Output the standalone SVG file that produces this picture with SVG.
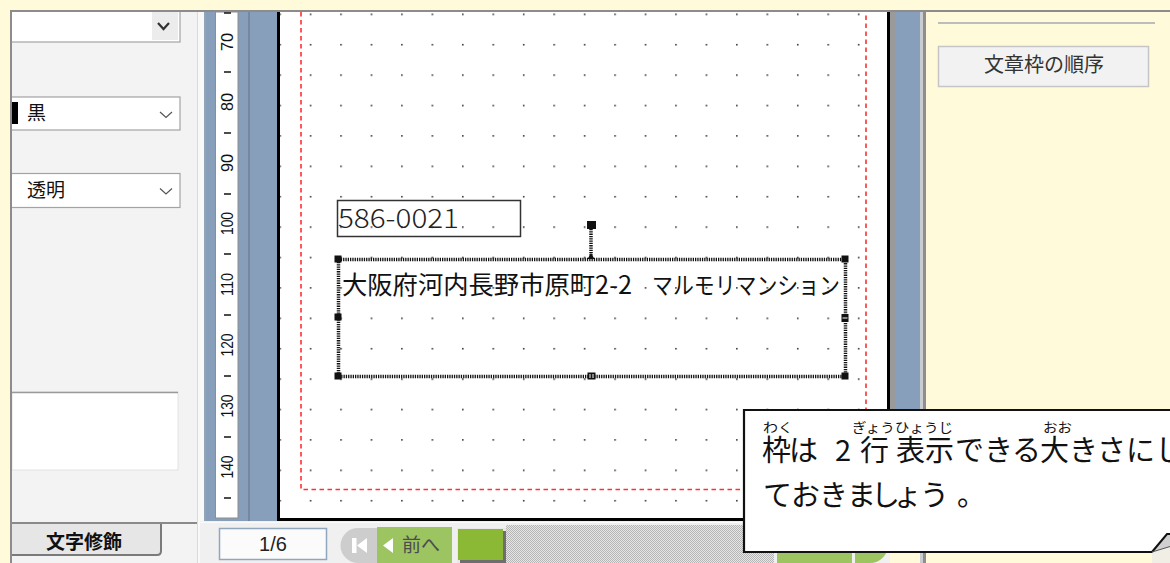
<svg xmlns="http://www.w3.org/2000/svg" width="1170" height="563" viewBox="0 0 1170 563">
<style>
.jp{font-family:'Noto Sans CJK JP','Noto Sans CJK SC',sans-serif}
.rn{font-family:'Liberation Sans',sans-serif;font-size:16px;fill:#111}
.tick{stroke:#111;stroke-width:1.5}
.dd{fill:#fff;stroke:#a3a3a3;stroke-width:1.2}
.chev{fill:none;stroke:#555;stroke-width:1.2}
.hd{fill:#111}
.sel{fill:none;stroke:#111;stroke-width:3.5;stroke-dasharray:1.3 1}
.ct{font-family:'Noto Sans CJK JP','Noto Sans CJK SC',sans-serif;font-size:29px;fill:#111}
.rb{font-family:'Noto Sans CJK JP','Noto Sans CJK SC',sans-serif;font-size:13px;fill:#111}
</style>
<defs>
<pattern id="dots" x="279.3" y="13.5" width="30.45" height="30.4" patternUnits="userSpaceOnUse"><rect width="1.6" height="1.6" fill="#3a3a3a"/></pattern>
<pattern id="hatch" width="2" height="2" patternUnits="userSpaceOnUse"><rect width="2" height="2" fill="#e6e6e6"/><rect width="1" height="1" fill="#b5b5b5"/><rect x="1" y="1" width="1" height="1" fill="#b5b5b5"/></pattern>
</defs>
<rect width="1170" height="563" fill="#fffad9"/>

<g id="left-panel">
<rect x="10" y="11" width="190" height="552" fill="#f3f3f3"/>
<rect x="197" y="11" width="7" height="552" fill="#f9f9f9"/>
<line x1="197.5" y1="11" x2="197.5" y2="563" stroke="#dadada"/>
<rect x="11" y="8" width="169" height="34" class="dd"/>
<rect x="152" y="12" width="26" height="28" fill="#ececec"/>
<path d="M158,23 L163.5,29 L169,23" fill="none" stroke="#333" stroke-width="2.2"/>
<rect x="11" y="97" width="169" height="33" class="dd"/>
<rect x="12" y="102" width="6" height="22" fill="#000"/>
<text x="27" y="120" class="jp" font-size="19" fill="#111">黒</text>
<path d="M160,112 L166,117.5 L172,112" class="chev"/>
<rect x="11" y="173.5" width="169" height="34" class="dd"/>
<text x="27" y="197" class="jp" font-size="19" fill="#111">透明</text>
<path d="M160,188.5 L166,194 L172,188.5" class="chev"/>
<rect x="12" y="392" width="166" height="78" fill="#fff" stroke="#e2e2e2"/>
<line x1="12" y1="392.5" x2="178" y2="392.5" stroke="#9a9a9a" stroke-width="1.5"/>
<line x1="12" y1="523" x2="197" y2="523" stroke="#8a8a8a" stroke-width="2"/>
<path d="M12,524 H161 V551 Q161,555 157,555 H12 Z" fill="#e6e6e6"/>
<path d="M161,524 V551 Q161,555 157,555 H12" fill="none" stroke="#7a7a7a" stroke-width="2"/>
<text x="84" y="549" class="jp" font-size="19" font-weight="bold" fill="#111" text-anchor="middle">文字修飾</text>
<rect x="10" y="11" width="2" height="552" fill="#8c8c8c"/>
</g>

<g id="top-border">
<rect x="0" y="0" width="1170" height="10" fill="#fffad9"/>
<rect x="10" y="10" width="1160" height="2" fill="#8c8c8c"/>
</g>

<g id="ruler">
<rect x="204" y="12" width="73" height="509" fill="#879fba"/>
<line x1="205" y1="12" x2="205" y2="521" stroke="#9aa8b6"/>
<rect x="215.5" y="12" width="22.5" height="506" fill="#fff" stroke="#8e8e8e"/>
<line x1="249" y1="12" x2="249" y2="521" stroke="#6f8196" stroke-width="1.5"/>
<g class="tick">
<line x1="224" y1="13" x2="231" y2="13"/>
<line x1="224" y1="72" x2="231" y2="72"/>
<line x1="224" y1="133" x2="231" y2="133"/>
<line x1="224" y1="194" x2="231" y2="194"/>
<line x1="224" y1="254" x2="231" y2="254"/>
<line x1="224" y1="315" x2="231" y2="315"/>
<line x1="224" y1="376" x2="231" y2="376"/>
<line x1="224" y1="437" x2="231" y2="437"/>
<line x1="224" y1="498" x2="231" y2="498"/>
</g>
<text class="rn" transform="translate(232.5,42) rotate(-90)" text-anchor="middle" textLength="18" lengthAdjust="spacingAndGlyphs">70</text>
<text class="rn" transform="translate(232.5,102) rotate(-90)" text-anchor="middle" textLength="18" lengthAdjust="spacingAndGlyphs">80</text>
<text class="rn" transform="translate(232.5,163) rotate(-90)" text-anchor="middle" textLength="18" lengthAdjust="spacingAndGlyphs">90</text>
<text class="rn" transform="translate(232.5,223.5) rotate(-90)" text-anchor="middle" textLength="23" lengthAdjust="spacingAndGlyphs">100</text>
<text class="rn" transform="translate(232.5,284.5) rotate(-90)" text-anchor="middle" textLength="23" lengthAdjust="spacingAndGlyphs">110</text>
<text class="rn" transform="translate(232.5,345) rotate(-90)" text-anchor="middle" textLength="23" lengthAdjust="spacingAndGlyphs">120</text>
<text class="rn" transform="translate(232.5,406) rotate(-90)" text-anchor="middle" textLength="23" lengthAdjust="spacingAndGlyphs">130</text>
<text class="rn" transform="translate(232.5,467) rotate(-90)" text-anchor="middle" textLength="23" lengthAdjust="spacingAndGlyphs">140</text>
</g>

<g id="page">
<rect x="280" y="12" width="607" height="506" fill="#fff"/>
<rect x="279" y="12" width="595" height="505" fill="url(#dots)"/>
<path d="M301,12 V489.5 H866 V12" fill="none" stroke="#ff3030" stroke-width="1.6" stroke-dasharray="4.5 3.5"/>
<rect x="277" y="12" width="3" height="509" fill="#000"/>
<rect x="277" y="518" width="613" height="3" fill="#000"/>
<rect x="887" y="12" width="3" height="509" fill="#000"/>
<rect x="890" y="12" width="5" height="509" fill="#9a9a9a"/>
<rect x="895" y="12" width="25" height="509" fill="#879fba"/>
<rect x="920" y="12" width="3" height="551" fill="#c9cdd2"/>
<rect x="923" y="12" width="3" height="551" fill="#8e8e8e"/>
</g>

<g id="zip-box">
<rect x="337.5" y="200.5" width="183" height="36" fill="none" stroke="#333" stroke-width="1.5"/>
<text x="338" y="228" class="jp" font-size="27" font-weight="300" fill="#222" textLength="121" lengthAdjust="spacingAndGlyphs">586-0021</text>
</g>

<g id="address-box">
<rect x="338.5" y="259.5" width="507" height="117" class="sel"/>
<line x1="591" y1="229" x2="591" y2="258" class="sel"/>
<rect x="587" y="221" width="9" height="8" class="hd"/>
<rect x="334.5" y="255.5" width="7" height="7" class="hd"/>
<rect x="841.5" y="255.5" width="7" height="7" class="hd"/>
<rect x="334.5" y="372.5" width="7" height="7" class="hd"/>
<rect x="841.5" y="372.5" width="7" height="7" class="hd"/>
<rect x="334.5" y="313.5" width="7" height="7" class="hd"/>
<rect x="841.5" y="314" width="7" height="8" class="hd"/>
<line x1="842.5" y1="318" x2="847.5" y2="318" stroke="#fff"/>
<rect x="587.5" y="372.5" width="8" height="7" class="hd"/>
<line x1="590" y1="374" x2="590" y2="378" stroke="#fff"/>
<line x1="593" y1="374" x2="593" y2="378" stroke="#fff"/>
<path d="M587.5,259 L591,253 L594.5,259 Z" class="hd"/>
<text x="342" y="294" class="jp" font-size="25" fill="#111" textLength="290" lengthAdjust="spacingAndGlyphs">大阪府河内長野市原町2-2</text>
<text x="652" y="294" class="jp" font-size="24" fill="#111" textLength="188" lengthAdjust="spacingAndGlyphs">マルモリマンション</text>
</g>

<g id="right-panel">
<line x1="938" y1="23" x2="1155" y2="23" stroke="#bdbdbd" stroke-width="2"/>
<rect x="938.5" y="46.5" width="210" height="40" fill="#f2f2f2" stroke="#c5c5c5" stroke-width="1.5"/>
<text x="1044" y="72" class="jp" font-size="20" fill="#333" text-anchor="middle">文章枠の順序</text>
</g>

<g id="bottom-bar">
<rect x="200" y="521" width="690" height="42" fill="#f0f0f0"/>
<line x1="200" y1="522.5" x2="890" y2="522.5" stroke="#fafafa"/>
<rect x="219.5" y="528.5" width="107" height="31" fill="#fbfbfb" stroke="#8fa6be" stroke-width="1.5"/>
<text x="273" y="551" font-family="'Liberation Sans',sans-serif" font-size="20" fill="#222" text-anchor="middle">1/6</text>
<path d="M358,528 H377 V563 H358 A17.5,17.5 0 0 1 358,528 Z" fill="#cdcdcd"/>
<rect x="352" y="538" width="4.5" height="15" fill="#fff"/>
<polygon points="357,545.5 367,538 367,553" fill="#fff"/>
<rect x="377" y="527" width="75" height="36" fill="#9cc562"/>
<polygon points="383,545.5 393,538 393,553" fill="#fff"/>
<text x="402" y="552" class="jp" font-size="19" fill="#4d4d4d">前へ</text>
<rect x="457" y="528" width="49" height="35" fill="#e8e8e8"/>
<rect x="458" y="529" width="45" height="31" fill="#8bb935"/>
<rect x="503" y="531" width="3" height="32" fill="#6e6e6e"/>
<rect x="460" y="560" width="46" height="3" fill="#6e6e6e"/>
<rect x="506" y="525" width="268" height="38" fill="url(#hatch)"/>
<rect x="777" y="527" width="75" height="36" fill="#9cc562"/>
<path d="M855,527 H870 A18,18 0 0 1 870,563 H855 Z" fill="#9cc562"/>
<rect x="1152" y="546" width="18" height="17" fill="#f1eee5"/>
</g>

<g id="callout">
<path d="M1152,552 H744 V410 H1175 V534 Z" fill="#fff"/>
<path d="M1152,552 H744 V410 H1175" fill="none" stroke="#111" stroke-width="2.2"/>
<polygon points="1152,552 1167,534 1175,534 1175,545" fill="#d0d0d0"/>
<path d="M1152,552 L1167,534 H1175" fill="none" stroke="#111" stroke-width="2"/>
<path d="M1152,552 L1175,545" fill="none" stroke="#555" stroke-width="1"/>
<text class="rb" x="763" y="432" textLength="30" lengthAdjust="spacingAndGlyphs">わく</text>
<text class="rb" x="852" y="432" textLength="101" lengthAdjust="spacingAndGlyphs">ぎょうひょうじ</text>
<text class="rb" x="1043" y="432" textLength="29" lengthAdjust="spacingAndGlyphs">おお</text>
<text class="ct" x="762 789 835 860 896 925 955 984 1012 1040 1069 1097 1126 1155" y="461">枠は2行表示できる大きさにし</text>
<text class="ct" x="763 791 819 847 871 893 920 957" y="506">ておきましょう。</text>
</g>
</svg>
